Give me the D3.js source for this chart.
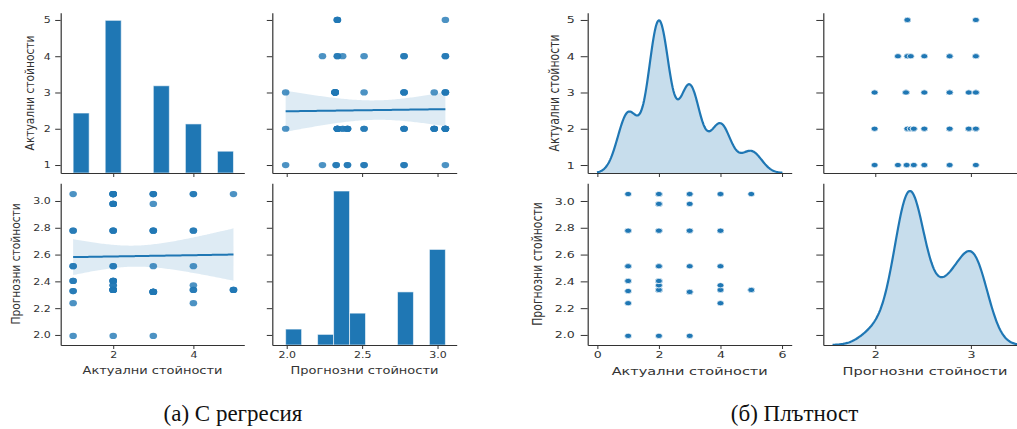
<!DOCTYPE html>
<html><head><meta charset="utf-8">
<script src="https://cdn.jsdelivr.net/npm/d3@7"></script>
<style>body{margin:0;background:#fff}svg{display:block}</style>
</head><body><svg id="c" width="1017" height="429"></svg>
<script>
// ---------------- data ----------------
const pairActual    = [1,1,1,1,1,1,1, 2,2,2,2,2,2,2,2, 3,3,3,3,3,3, 4,4,4,4,4,4, 5,5];
const pairPredicted = [1.993,2.237,2.328,2.403,2.513,2.778,3.052,
                       1.993,2.336,2.371,2.403,2.513,2.778,2.978,3.052,
                       1.993,2.321,2.513,2.778,2.978,3.052,
                       2.237,2.336,2.371,2.513,2.778,3.052,
                       2.336,3.052];
const pairCount     = [1,1,2,2,2,2,1, 1,6,2,4,2,3,4,6, 1,7,1,3,1,3, 1,2,1,1,2,2, 3,1];

const actualLabel = "Актуални стойности";
const predictedLabel = "Прогнозни стойности";
const captionLeft = "(а) С регресия";
const captionRight = "(б) Плътност";

const actualTicksY = [1,2,3,4,5];
const predTicksY = [2.0,2.2,2.4,2.6,2.8,3.0];
const actualTicksXLeft = [2,4];
const actualTicksXRight = [0,2,4,6];
const predTicksXLeft = [2.0,2.5,3.0];
const predTicksXRight = [2,3];

// ---------------- derived ----------------
const points = [];
pairActual.forEach((a,i)=>{ for(let k=0;k<pairCount[i];k++) points.push({a, p: pairPredicted[i]}); });
const A = points.map(d=>d.a), P = points.map(d=>d.p);

const BLUE = "#1f77b4", INK = "#333";
const svg = d3.select("#c");
svg.append("rect").attr("width",1017).attr("height",429).attr("fill","#fff");

// statsmodels-style Scott bandwidth
function scottBW(v){
  const s = d3.deviation(v);
  const sorted = v.slice().sort(d3.ascending);
  const iqr = (d3.quantileSorted(sorted,0.75) - d3.quantileSorted(sorted,0.25))/1.349;
  return 1.059 * Math.min(s, iqr) * Math.pow(v.length, -0.2);
}
function kde(v, bw){
  const lo = d3.min(v) - 3*bw, hi = d3.max(v) + 3*bw;
  const grid = d3.range(0, 241).map(i => lo + (hi-lo)*i/240);
  const c = 1/Math.sqrt(2*Math.PI);
  return {lo, hi, pts: grid.map(x => [x, d3.mean(v, u => c*Math.exp(-0.5*((x-u)/bw)**2))/bw])};
}
function regress(xs, ys){
  const n = xs.length, mx = d3.mean(xs), my = d3.mean(ys);
  let sxx=0, sxy=0;
  xs.forEach((x,i)=>{ sxx += (x-mx)**2; sxy += (x-mx)*(ys[i]-my); });
  const b = sxy/sxx, a = my - b*mx;
  let sse = 0; xs.forEach((x,i)=>{ sse += (ys[i]-a-b*x)**2; });
  const s = Math.sqrt(sse/(n-2)), t = 1.9966;
  const x0 = d3.min(xs), x1 = d3.max(xs);
  return d3.range(0,101).map(i=>{
    const x = x0 + (x1-x0)*i/100, yh = a + b*x;
    const h = t*s*Math.sqrt(1/n + (x-mx)**2/sxx);
    return {x, y: yh, lo: yh-h, hi: yh+h};
  });
}

// ---------------- helpers ----------------
function axisB(g, scale, y, ticks, fmt, S, labels){
  const ax = d3.axisBottom(scale).tickValues(ticks).tickSize(S.xtick).tickSizeOuter(0)
    .tickFormat(labels ? fmt : () => "");
  const a = g.append("g").attr("transform",`translate(0,${y})`).call(ax);
  style(a, S);
  a.selectAll(".tick text").attr("y",0).attr("dy","0.71em")
    .attr("transform",`translate(0,${S.xoff}) scale(1,${S.sy})`);
}
function axisL(g, scale, x, ticks, fmt, S, labels){
  const ax = d3.axisLeft(scale).tickValues(ticks).tickSize(S.ytick).tickSizeOuter(0)
    .tickFormat(labels ? fmt : () => "");
  const a = g.append("g").attr("transform",`translate(${x},0)`).call(ax);
  style(a, S);
  a.selectAll(".tick text").attr("x",0).attr("dy","0.32em")
    .attr("transform",`translate(${-S.yoff},0) scale(1,${S.sy})`);
}
function style(a, S){
  a.attr("font-family","DejaVu Sans").attr("font-size",S.tick);
  a.select(".domain").attr("stroke",INK).attr("stroke-width",1.2);
  a.selectAll(".tick line").attr("stroke",INK).attr("stroke-width",1);
  a.selectAll(".tick text").attr("fill",INK);
}
function label(g, x, y, str, S, rot){
  g.append("text").attr("transform",`translate(${x},${y}) scale(1,${S.sy})${rot?" rotate(-90)":""}`)
    .attr("text-anchor","middle").attr("font-family","DejaVu Sans").attr("font-size",S.label)
    .attr("fill",INK).text(str);
}
const f1 = d3.format(".1f"), f0 = d3.format("d");

// ---------------- left panel: regression ----------------
const SL = {sy:0.82, tick:11, label:13, ytick:5.5, yoff:10, xtick:4, xoff:6.5};
(function(){
  const g = svg.append("g");
  const xA = d3.scaleLinear().domain([0.69,5.27]).range([60.7,244.3]);
  const xP = d3.scaleLinear().domain([1.9045,3.127]).range([272.3,456.7]);
  const yA = d3.scaleLinear().domain([0.78,5.2]).range([173,12.7]);
  const yP = d3.scaleLinear().domain([1.925,3.132]).range([345,183.3]);

  // TL histogram of actual
  const binsA = d3.bin().domain([d3.min(A), d3.max(A)])
    .thresholds(d3.range(1,10).map(i => d3.min(A) + i*(d3.max(A)-d3.min(A))/10))(A);
  const hA = d3.scaleLinear().domain([0, d3.max(binsA, b=>b.length)*1.05]).range([173,12.7]);
  g.append("g").selectAll("rect").data(binsA.filter(b=>b.length)).join("rect")
    .attr("x",b=>xA(b.x0)).attr("width",b=>xA(b.x1)-xA(b.x0))
    .attr("y",b=>hA(b.length)).attr("height",b=>hA(0)-hA(b.length))
    .attr("fill",BLUE).attr("stroke","#fff").attr("stroke-opacity",0.6).attr("stroke-width",1);

  // BR histogram of predicted
  const binsP = d3.bin().domain([d3.min(P), d3.max(P)])
    .thresholds(d3.range(1,10).map(i => d3.min(P) + i*(d3.max(P)-d3.min(P))/10))(P);
  const hP = d3.scaleLinear().domain([0, d3.max(binsP, b=>b.length)*1.05]).range([345,183.3]);
  g.append("g").selectAll("rect").data(binsP.filter(b=>b.length)).join("rect")
    .attr("x",b=>xP(b.x0)).attr("width",b=>xP(b.x1)-xP(b.x0))
    .attr("y",b=>hP(b.length)).attr("height",b=>hP(0)-hP(b.length))
    .attr("fill",BLUE).attr("stroke","#fff").attr("stroke-opacity",0.6).attr("stroke-width",1);

  // TR: actual vs predicted + regression
  const rTR = regress(P, A);
  g.append("path").datum(rTR).attr("fill",BLUE).attr("fill-opacity",0.15)
    .attr("d", d3.area().x(d=>xP(d.x)).y0(d=>yA(d.lo)).y1(d=>yA(d.hi)));
  g.append("g").selectAll("ellipse").data(points).join("ellipse")
    .attr("cx",d=>xP(d.p)).attr("cy",d=>yA(d.a)).attr("rx",3.8).attr("ry",3.8*SL.sy)
    .attr("fill",BLUE).attr("fill-opacity",0.8);
  g.append("path").datum(rTR).attr("fill","none").attr("stroke",BLUE).attr("stroke-width",2)
    .attr("d", d3.line().x(d=>xP(d.x)).y(d=>yA(d.y)));

  // BL: predicted vs actual + regression
  const rBL = regress(A, P);
  g.append("path").datum(rBL).attr("fill",BLUE).attr("fill-opacity",0.15)
    .attr("d", d3.area().x(d=>xA(d.x)).y0(d=>yP(d.lo)).y1(d=>yP(d.hi)));
  g.append("g").selectAll("ellipse").data(points).join("ellipse")
    .attr("cx",d=>xA(d.a)).attr("cy",d=>yP(d.p)).attr("rx",3.8).attr("ry",3.8*SL.sy)
    .attr("fill",BLUE).attr("fill-opacity",0.8);
  g.append("path").datum(rBL).attr("fill","none").attr("stroke",BLUE).attr("stroke-width",2)
    .attr("d", d3.line().x(d=>xA(d.x)).y(d=>yP(d.y)));

  // axes
  axisL(g, yA, 60.7, actualTicksY, f0, SL, true);
  axisB(g, xA, 173, actualTicksXLeft, f0, SL, false);
  axisL(g, yA, 272.3, actualTicksY, f0, SL, false);
  axisB(g, xP, 173, predTicksXLeft, f1, SL, false);
  axisL(g, yP, 60.7, predTicksY, f1, SL, true);
  axisB(g, xA, 345, actualTicksXLeft, f0, SL, true);
  axisL(g, yP, 272.3, predTicksY, f1, SL, false);
  axisB(g, xP, 345, predTicksXLeft, f1, SL, true);

  label(g, 34, 93, actualLabel, SL, true);
  label(g, 20, 264, predictedLabel, SL, true);
  label(g, 152.5, 374, actualLabel, SL, false);
  label(g, 364.5, 374, predictedLabel, SL, false);
})();

// ---------------- right panel: density ----------------
const SR = {sy:0.75, tick:12.6, label:14.5, ytick:7, yoff:13, xtick:4, xoff:6.5};
(function(){
  const g = svg.append("g");
  const kA = kde(A, scottBW(A)), kP = kde(P, scottBW(P));
  const padA = (kA.hi-kA.lo)*0.05, padP = (kP.hi-kP.lo)*0.05;
  const xA = d3.scaleLinear().domain([kA.lo-padA, kA.hi+padA]).range([587.7,791.7]);
  const dP = [kP.lo-padP, kP.hi+padP];
  const xP = d3.scaleLinear().domain(dP).range([823.3, 823.3 + (dP[1]-dP[0])*95.6]);
  const yA = d3.scaleLinear().domain([0.78,5.2]).range([173,12.7]);
  const yP = d3.scaleLinear().domain([1.925,3.132]).range([345,183.3]);

  const dA = d3.scaleLinear().domain([0, d3.max(kA.pts, d=>d[1])*1.05]).range([173,12.7]);
  g.append("path").datum(kA.pts).attr("fill",BLUE).attr("fill-opacity",0.25)
    .attr("d", d3.area().x(d=>xA(d[0])).y0(dA(0)).y1(d=>dA(d[1])));
  g.append("path").datum(kA.pts).attr("fill","none").attr("stroke",BLUE).attr("stroke-width",2.2)
    .attr("d", d3.line().x(d=>xA(d[0])).y(d=>dA(d[1])));

  const dPy = d3.scaleLinear().domain([0, d3.max(kP.pts, d=>d[1])*1.05]).range([345,183.3]);
  g.append("path").datum(kP.pts).attr("fill",BLUE).attr("fill-opacity",0.25)
    .attr("d", d3.area().x(d=>xP(d[0])).y0(dPy(0)).y1(d=>dPy(d[1])));
  g.append("path").datum(kP.pts).attr("fill","none").attr("stroke",BLUE).attr("stroke-width",2.2)
    .attr("d", d3.line().x(d=>xP(d[0])).y(d=>dPy(d[1])));

  g.append("g").selectAll("ellipse").data(points).join("ellipse")
    .attr("cx",d=>xP(d.p)).attr("cy",d=>yA(d.a)).attr("rx",3.5).attr("ry",3.5*SR.sy)
    .attr("fill",BLUE).attr("stroke","#fff").attr("stroke-width",0.7);
  g.append("g").selectAll("ellipse").data(points).join("ellipse")
    .attr("cx",d=>xA(d.a)).attr("cy",d=>yP(d.p)).attr("rx",3.5).attr("ry",3.5*SR.sy)
    .attr("fill",BLUE).attr("stroke","#fff").attr("stroke-width",0.7);

  axisL(g, yA, 587.7, actualTicksY, f0, SR, true);
  axisB(g, xA, 173, actualTicksXRight, f0, SR, false);
  axisL(g, yA, 823.3, actualTicksY, f0, SR, false);
  axisB(g, xP, 173, predTicksXRight, f0, SR, false);
  axisL(g, yP, 587.7, predTicksY, f1, SR, true);
  axisB(g, xA, 345, actualTicksXRight, f0, SR, true);
  axisL(g, yP, 823.3, predTicksY, f1, SR, false);
  axisB(g, xP, 345, predTicksXRight, f0, SR, true);

  label(g, 558.5, 93, actualLabel, SR, true);
  label(g, 542, 264, predictedLabel, SR, true);
  label(g, 689.7, 374.5, actualLabel, SR, false);
  label(g, 925, 374.5, predictedLabel, SR, false);
})();

// ---------------- captions ----------------
svg.append("text").attr("x",233).attr("y",421).attr("text-anchor","middle")
  .attr("font-family","Liberation Serif").attr("font-size",23).attr("fill","#111").text(captionLeft);
svg.append("text").attr("x",794.5).attr("y",421).attr("text-anchor","middle")
  .attr("font-family","Liberation Serif").attr("font-size",23).attr("fill","#111").text(captionRight);
</script></body></html>
